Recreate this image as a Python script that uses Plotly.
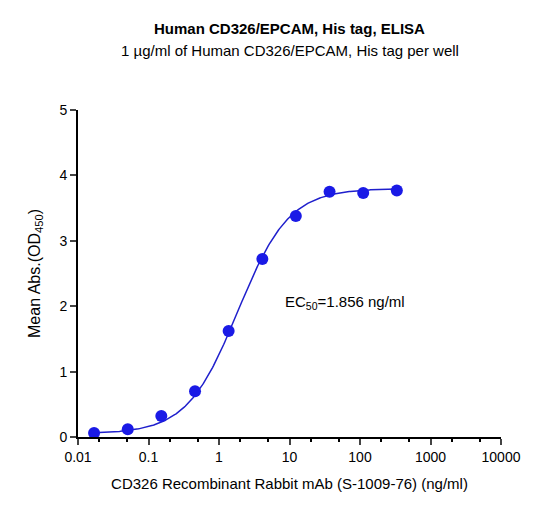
import numpy as np
import plotly.graph_objects as go

conc = [0.0169, 0.0508, 0.152, 0.457, 1.37, 4.12, 12.3, 37, 111, 333]
absorb = [0.06, 0.12, 0.32, 0.70, 1.62, 2.72, 3.38, 3.75, 3.73, 3.77]
# 4PL fit parameters
bottom, top, ec50, hill = 0.05, 3.80, 1.856, 1.2

xc = np.logspace(np.log10(0.0169), np.log10(333), 300)
yc = bottom + (top - bottom) / (1 + (ec50 / xc) ** hill)

fig = go.Figure()
fig.add_trace(go.Scatter(x=xc, y=yc, mode="lines", line=dict(color="#1f1fcc", width=1.5), hoverinfo="skip"))
fig.add_trace(go.Scatter(x=conc, y=absorb, mode="markers", marker=dict(color="#1a1ae6", size=12)))

fig.update_layout(
    width=559, height=506, showlegend=False, plot_bgcolor="white", paper_bgcolor="white",
    margin=dict(l=70, r=66, t=102, b=77),
    font=dict(family="Liberation Sans, Arial", size=15, color="black"),
    annotations=[
        dict(text="<b>Human CD326/EPCAM, His tag, ELISA</b>", x=0.5, y=1.281, xref="paper", yref="paper",
             yanchor="top", showarrow=False, font=dict(size=15)),
        dict(text="1 µg/ml of Human CD326/EPCAM, His tag per well", x=0.5, y=1.214, xref="paper", yref="paper",
             yanchor="top", showarrow=False, font=dict(size=15)),
        dict(text="EC<sub>50</sub>=1.856 ng/ml", x=np.log10(8), y=2.05, xref="x", yref="y",
             xanchor="left", showarrow=False, font=dict(size=15)),
    ],
)
fig.update_xaxes(type="log", range=[-2, 4], tickvals=[0.01, 0.1, 1, 10, 100, 1000, 10000],
                 ticktext=["0.01", "0.1", "1", "10", "100", "1000", "10000"],
                 showline=True, linecolor="black", linewidth=2, ticks="outside", ticklen=6, tickwidth=2,
                 minor=dict(ticks="outside", ticklen=3, tickcolor="black", showgrid=False),
                 showgrid=False, zeroline=False,
                 title=dict(text="CD326 Recombinant Rabbit mAb (S-1009-76) (ng/ml)", font=dict(size=15)),
                 tickfont=dict(size=14, family="Liberation Sans, Arial"))
fig.update_yaxes(range=[0, 5], dtick=1, showline=True, linecolor="black", linewidth=2, ticks="outside",
                 ticklen=6, tickwidth=2, showgrid=False, zeroline=False,
                 title=dict(text="Mean Abs.(OD<sub>450</sub>)", font=dict(size=16)),
                 tickfont=dict(size=14, family="Liberation Sans, Arial"))
fig.write_html("out.html")
